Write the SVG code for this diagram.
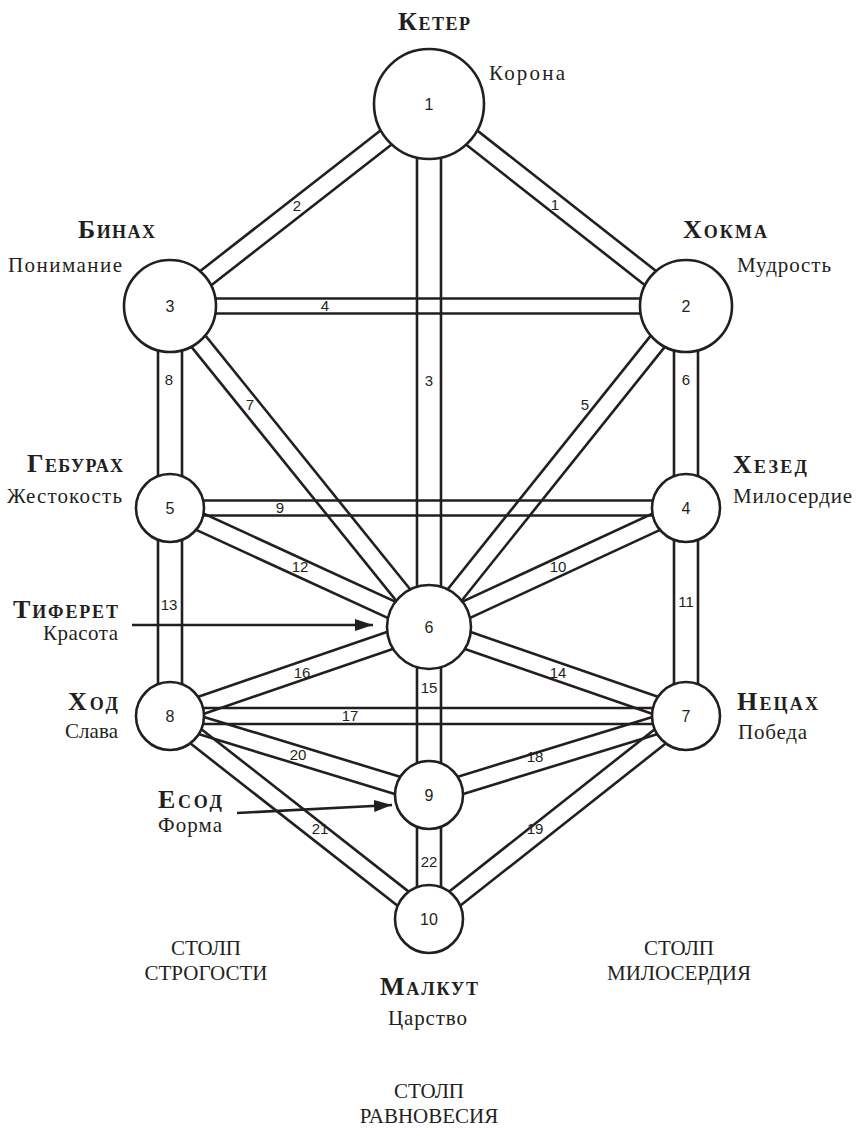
<svg xmlns="http://www.w3.org/2000/svg" width="857" height="1131" viewBox="0 0 857 1131">
<style>
.ln{stroke:#231f20;stroke-width:2.6;fill:none}
.nd{fill:#fff;stroke:#231f20;stroke-width:2.6}
.num{font-family:"Liberation Sans",Arial,sans-serif;font-size:16px;fill:#231f20;text-anchor:middle}
.lbl{font-family:"Liberation Sans",Arial,sans-serif;font-size:15px;fill:#231f20;text-anchor:middle}
.ttl{font-family:"Liberation Serif","Times New Roman",serif;font-weight:bold;fill:#231f20;font-size:18px}
.big{font-size:26px}
.sub{font-family:"Liberation Serif","Times New Roman",serif;font-size:21px;fill:#231f20}
.pil{font-family:"Liberation Serif","Times New Roman",serif;font-size:21px;fill:#231f20;text-anchor:middle}
</style>
<defs>
<marker id="ah" markerUnits="userSpaceOnUse" markerWidth="18" markerHeight="14" refX="18" refY="7" orient="auto">
<path d="M0,1 L18,7 L0,13 Z" fill="#231f20"/>
</marker>
</defs>
<g id="connectors" class="ln">
<g id="p1" transform="translate(429,104) rotate(38.17)"><line x1="0" y1="-9" x2="327" y2="-9"/><line x1="0" y1="9" x2="327" y2="9"/></g>
<g id="p2" transform="translate(429,104) rotate(142.05)"><line x1="0" y1="-9" x2="329" y2="-9"/><line x1="0" y1="9" x2="329" y2="9"/></g>
<g id="p3"><line x1="417" y1="104" x2="417" y2="627"/><line x1="441" y1="104" x2="441" y2="627"/></g>
<g id="p4"><line x1="170" y1="298.5" x2="686" y2="298.5"/><line x1="170" y1="313.5" x2="686" y2="313.5"/></g>
<g id="p5" transform="translate(686,306) rotate(128.68)"><line x1="0" y1="-9" x2="411" y2="-9"/><line x1="0" y1="9" x2="411" y2="9"/></g>
<g id="p6"><line x1="674" y1="306" x2="674" y2="508"/><line x1="698" y1="306" x2="698" y2="508"/></g>
<g id="p7" transform="translate(170,306) rotate(51.1)"><line x1="0" y1="-9" x2="413" y2="-9"/><line x1="0" y1="9" x2="413" y2="9"/></g>
<g id="p8"><line x1="158" y1="306" x2="158" y2="508"/><line x1="182" y1="306" x2="182" y2="508"/></g>
<g id="p9"><line x1="170" y1="500.5" x2="686" y2="500.5"/><line x1="170" y1="515.5" x2="686" y2="515.5"/></g>
<g id="p10" transform="translate(686,508) rotate(155.15)"><line x1="0" y1="-9" x2="283" y2="-9"/><line x1="0" y1="9" x2="283" y2="9"/></g>
<g id="p11"><line x1="674" y1="508" x2="674" y2="716"/><line x1="698" y1="508" x2="698" y2="716"/></g>
<g id="p12" transform="translate(170,508) rotate(24.68)"><line x1="0" y1="-9" x2="285" y2="-9"/><line x1="0" y1="9" x2="285" y2="9"/></g>
<g id="p13"><line x1="158" y1="508" x2="158" y2="716"/><line x1="182" y1="508" x2="182" y2="716"/></g>
<g id="p14" transform="translate(686,716) rotate(-160.9)"><line x1="0" y1="-9" x2="272" y2="-9"/><line x1="0" y1="9" x2="272" y2="9"/></g>
<g id="p15"><line x1="417" y1="627" x2="417" y2="795"/><line x1="441" y1="627" x2="441" y2="795"/></g>
<g id="p16" transform="translate(170,716) rotate(-18.96)"><line x1="0" y1="-9" x2="274" y2="-9"/><line x1="0" y1="9" x2="274" y2="9"/></g>
<g id="p17"><line x1="170" y1="708" x2="686" y2="708"/><line x1="170" y1="724" x2="686" y2="724"/></g>
<g id="p18" transform="translate(686,716) rotate(162.91)"><line x1="0" y1="-9" x2="269" y2="-9"/><line x1="0" y1="9" x2="269" y2="9"/></g>
<g id="p19" transform="translate(686,716) rotate(141.7)"><line x1="0" y1="-9" x2="328" y2="-9"/><line x1="0" y1="9" x2="328" y2="9"/></g>
<g id="p20" transform="translate(170,716) rotate(16.96)"><line x1="0" y1="-9" x2="271" y2="-9"/><line x1="0" y1="9" x2="271" y2="9"/></g>
<g id="p21" transform="translate(170,716) rotate(38.09)"><line x1="0" y1="-9" x2="329" y2="-9"/><line x1="0" y1="9" x2="329" y2="9"/></g>
<g id="p22"><line x1="417" y1="795" x2="417" y2="919"/><line x1="441" y1="795" x2="441" y2="919"/></g>
<line id="arrow-tiferet" x1="132" y1="625" x2="373" y2="625" marker-end="url(#ah)"/>
<line id="arrow-yesod" x1="237" y1="813" x2="392" y2="805" marker-end="url(#ah)"/>
</g>
<g id="path-labels">
<text class="lbl" x="555" y="210">1</text>
<text class="lbl" x="297" y="211">2</text>
<text class="lbl" x="429" y="386">3</text>
<text class="lbl" x="325" y="311">4</text>
<text class="lbl" x="585" y="410">5</text>
<text class="lbl" x="686" y="385">6</text>
<text class="lbl" x="250" y="410">7</text>
<text class="lbl" x="169" y="385">8</text>
<text class="lbl" x="280" y="513">9</text>
<text class="lbl" x="558" y="572">10</text>
<text class="lbl" x="686" y="607">11</text>
<text class="lbl" x="300" y="572">12</text>
<text class="lbl" x="169" y="610">13</text>
<text class="lbl" x="558" y="678">14</text>
<text class="lbl" x="429" y="693">15</text>
<text class="lbl" x="302" y="678">16</text>
<text class="lbl" x="350" y="721">17</text>
<text class="lbl" x="535" y="762">18</text>
<text class="lbl" x="535" y="834">19</text>
<text class="lbl" x="298" y="760">20</text>
<text class="lbl" x="320" y="834">21</text>
<text class="lbl" x="429" y="867">22</text>
</g>
<g id="n1"><circle class="nd" cx="429" cy="104" r="55"/><text class="num" x="429" y="110">1</text>
<text class="ttl" x="398" y="30" textLength="72" lengthAdjust="spacing"><tspan class="big">К</tspan>ЕТЕР</text>
<text class="sub" x="489" y="80" textLength="76" lengthAdjust="spacing">Корона</text></g>
<g id="n2"><circle class="nd" cx="686" cy="306" r="46"/><text class="num" x="686" y="312">2</text>
<text class="ttl" x="683" y="238" textLength="84" lengthAdjust="spacing"><tspan class="big">Х</tspan>ОКМА</text>
<text class="sub" x="737" y="272" textLength="94" lengthAdjust="spacing">Мудрость</text></g>
<g id="n3"><circle class="nd" cx="170" cy="306" r="46"/><text class="num" x="170" y="312">3</text>
<text class="ttl" x="78" y="238" textLength="77" lengthAdjust="spacing"><tspan class="big">Б</tspan>ИНАХ</text>
<text class="sub" x="8" y="272" textLength="114" lengthAdjust="spacing">Понимание</text></g>
<g id="n4"><circle class="nd" cx="686" cy="508" r="34"/><text class="num" x="686" y="514">4</text>
<text class="ttl" x="733" y="473" textLength="74" lengthAdjust="spacing"><tspan class="big">Х</tspan>ЕЗЕД</text>
<text class="sub" x="733" y="503" textLength="119" lengthAdjust="spacing">Милосердие</text></g>
<g id="n5"><circle class="nd" cx="170" cy="508" r="34"/><text class="num" x="170" y="514">5</text>
<text class="ttl" x="27" y="472" textLength="96" lengthAdjust="spacing"><tspan class="big">Г</tspan>ЕБУРАХ</text>
<text class="sub" x="7" y="503" textLength="115" lengthAdjust="spacing">Жестокость</text></g>
<g id="n6"><circle class="nd" cx="429" cy="627" r="42"/><text class="num" x="429" y="633">6</text>
<text class="ttl" x="13" y="618" textLength="105" lengthAdjust="spacing"><tspan class="big">Т</tspan>ИФЕРЕТ</text>
<text class="sub" x="43" y="640" textLength="75" lengthAdjust="spacing">Красота</text></g>
<g id="n7"><circle class="nd" cx="686" cy="716" r="34"/><text class="num" x="686" y="722">7</text>
<text class="ttl" x="737" y="710" textLength="81" lengthAdjust="spacing"><tspan class="big">Н</tspan>ЕЦАХ</text>
<text class="sub" x="738" y="739" textLength="69" lengthAdjust="spacing">Победа</text></g>
<g id="n8"><circle class="nd" cx="170" cy="716" r="34"/><text class="num" x="170" y="722">8</text>
<text class="ttl" x="68" y="710" textLength="50" lengthAdjust="spacing"><tspan class="big">Х</tspan>ОД</text>
<text class="sub" x="65" y="738" textLength="53" lengthAdjust="spacing">Слава</text></g>
<g id="n9"><circle class="nd" cx="429" cy="795" r="34"/><text class="num" x="429" y="801">9</text>
<text class="ttl" x="158" y="808" textLength="64" lengthAdjust="spacing"><tspan class="big">Е</tspan>СОД</text>
<text class="sub" x="158" y="832" textLength="64" lengthAdjust="spacing">Форма</text></g>
<g id="n10"><circle class="nd" cx="429" cy="919" r="34"/><text class="num" x="429" y="925">10</text>
<text class="ttl" x="380" y="995" textLength="98" lengthAdjust="spacing"><tspan class="big">М</tspan>АЛКУТ</text>
<text class="sub" x="388" y="1025" textLength="79" lengthAdjust="spacing">Царство</text></g>
<g id="pillars">
<text class="pil" x="206" y="955">СТОЛП</text>
<text class="pil" x="206" y="980">СТРОГОСТИ</text>
<text class="pil" x="679" y="955">СТОЛП</text>
<text class="pil" x="679" y="980">МИЛОСЕРДИЯ</text>
<text class="pil" x="429" y="1098">СТОЛП</text>
<text class="pil" x="429" y="1123">РАВНОВЕСИЯ</text>
</g>
</svg>
